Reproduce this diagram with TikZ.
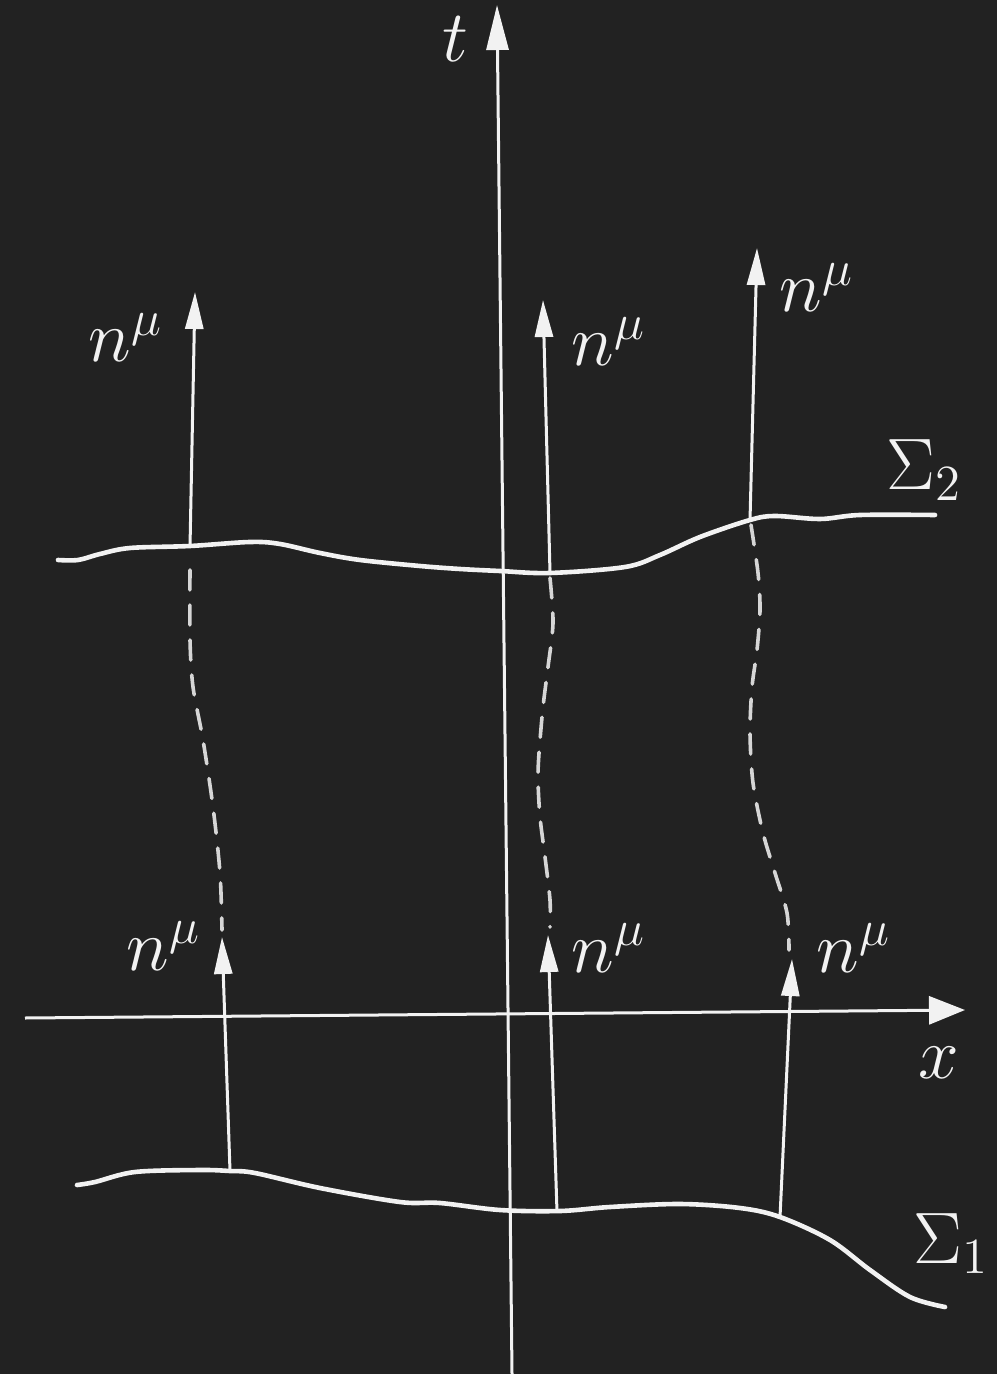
\documentclass[tikz,border=0pt]{standalone}
\usetikzlibrary{arrows.meta}
\definecolor{bg}{HTML}{222222}
\definecolor{fg}{HTML}{F2F2F2}
\definecolor{dashcol}{HTML}{D6D6D6}
\tikzset{
  surf/.style={line width=0.046cm, fg, line cap=round},
  axis/.style={line width=0.03cm, fg, -{Triangle[length=0.36cm,width=0.28cm]}},
  taxis/.style={line width=0.03cm, fg, -{Triangle[length=0.45cm,width=0.22cm]}},
  normal/.style={line width=0.03cm, fg, -{Triangle[length=0.37cm,width=0.18cm]}},
  dash line/.style={line width=0.036cm, dashcol, line cap=round, dash pattern=on 0.2cm off 0.15cm},
  lab/.style={text=fg, inner sep=0pt, anchor=base west, font=\fontsize{20.5}{24}\selectfont}
}
\begin{document}
\begin{tikzpicture}[x=0.01cm,y=-0.01cm]
\fill[bg] (0,0) rectangle (997,1374);
\useasboundingbox (0,0) rectangle (997,1374);

% axes
\coordinate (tb) at (512,1374);
\coordinate (tt) at (497,5);
\coordinate (xl) at (25,1018);
\coordinate (xr) at (965,1010);
\draw[taxis] (tb) -- (tt);
\draw[axis] (xl) -- (xr);
\node[lab] (tlab) at (442,62) {$t$};
\node[lab] (xlab) at (918,1078) {$x$};

% surfaces
\draw[surf] plot[smooth, tension=0.55] coordinates {(58,560) (78,560) (100,554) (130,548) (190,546) (250,542) (280,544) (320,553) (360,560) (420,566) (460,569) (500,571) (550,573) (625,567) (660,555) (700,537) (750,520) (775,516) (820,519) (860,515) (935,515)};
\draw[surf] plot[smooth, tension=0.55] coordinates {(77,1185) (95,1182) (135,1172) (200,1170) (230,1171) (255,1173) (320,1188) (400,1202) (440,1203) (500,1210) (560,1211) (610,1207) (680,1204) (740,1208) (780,1217) (830,1240) (870,1270) (910,1297) (945,1307)};
\node[lab] (s2) at (886,490) {$\Sigma_2$};
\node[lab] (s1) at (913,1263) {$\Sigma_1$};

% points on Sigma_2 and tips
\coordinate (a2) at (190,547);
\coordinate (b2) at (550,573);
\coordinate (c2) at (750,520);
\coordinate (at) at (195,292);
\coordinate (bt) at (543,300);
\coordinate (ct) at (757,248);
% points on Sigma_1 and lower tips
\coordinate (a1) at (230,1171);
\coordinate (b1) at (557,1212);
\coordinate (c1) at (780,1217);
\coordinate (al) at (222,937);
\coordinate (bl) at (548,935);
\coordinate (cl) at (792,959);

\draw[normal] (a2) -- (at);
\draw[normal] (b2) -- (bt);
\draw[normal] (c2) -- (ct);
\draw[normal] (a1) -- (al);
\draw[normal] (b1) -- (bl);
\draw[normal] (c1) -- (cl);

% dashed flow lines
\draw[dash line] plot[smooth] coordinates {(190,570) (190,640) (193,687) (203,740) (213,807) (220,873) (222,930)};
\draw[dash line] plot[smooth] coordinates {(550,578) (553,623) (548,667) (543,707) (539,753) (538,780) (540,817) (545,857) (550,900) (550,927)};
\draw[dash line] plot[smooth] coordinates {(751,525) (758,573) (760,610) (757,650) (752,687) (750,733) (753,783) (763,833) (775,873) (787,913) (789,950)};

% labels
\node[lab] (n1) at (88,362) {$n^\mu$};
\node[lab] (n2) at (571,366) {$n^\mu$};
\node[lab] (n3) at (779,312) {$n^\mu$};
\node[lab] (n4) at (126,970) {$n^\mu$};
\node[lab] (n5) at (571,972) {$n^\mu$};
\node[lab] (n6) at (816,972) {$n^\mu$};
\end{tikzpicture}
\end{document}
